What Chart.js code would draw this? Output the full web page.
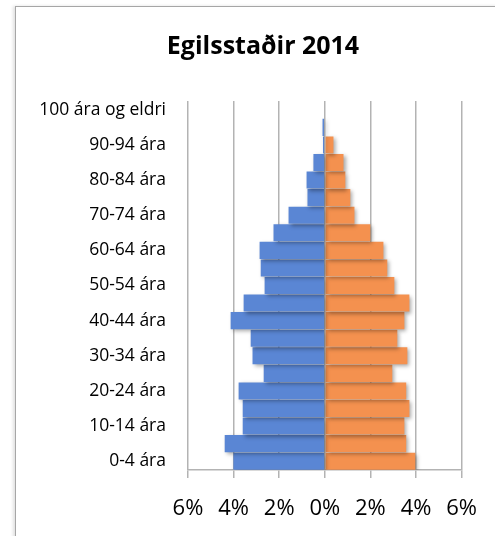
<!DOCTYPE html>
<html>
<head>
<meta charset="utf-8">
<script src="https://cdn.jsdelivr.net/npm/chart.js@4/dist/chart.umd.min.js"></script>
<style>
  html, body { margin: 0; padding: 0; background: #ffffff; }
  body { width: 495px; height: 536px; position: relative; overflow: hidden; }
  #frame {
    position: absolute; left: 15px; top: 6px; width: 520px; height: 560px;
    border: 1px solid #a6a6a6; box-shadow: -2px 0 3px rgba(0,0,0,0.12);
    box-sizing: border-box;
  }
  #wrap { position: absolute; left: 0; top: 0; width: 495px; height: 536px; }
</style>
</head>
<body>
<div id="frame"></div>
<div id="wrap"><canvas id="c" width="495" height="536"></canvas></div>
<script>
const ageGroups = ["0-4 ára","5-9 ára","10-14 ára","15-19 ára","20-24 ára","25-29 ára","30-34 ára","35-39 ára","40-44 ára","45-49 ára","50-54 ára","55-59 ára","60-64 ára","65-69 ára","70-74 ára","75-79 ára","80-84 ára","85-89 ára","90-94 ára","95-99 ára","100 ára og eldri"];
const males   = [-4.01,-4.39,-3.60,-3.60,-3.78,-2.68,-3.17,-3.25,-4.13,-3.56,-2.64,-2.81,-2.86,-2.25,-1.59,-0.76,-0.80,-0.50,-0.08,-0.10,0];
const females = [3.97,3.57,3.49,3.71,3.57,2.96,3.62,3.18,3.49,3.71,3.05,2.74,2.57,2.00,1.30,1.12,0.90,0.82,0.38,0,0];
const xTicks  = [-6,-4,-2,0,2,4,6];
const chartTitle = "Egilsstaðir 2014";

const FONT = "'Open Sans', 'Liberation Sans', sans-serif";

const shadowPlugin = {
  id: 'shadow',
  beforeDatasetsDraw(chart) {
    const ctx = chart.ctx;
    ctx.save();
    ctx.shadowColor = 'rgba(0,0,0,0.35)';
    ctx.shadowBlur = 4;
    ctx.shadowOffsetX = 2;
    ctx.shadowOffsetY = 2;
  },
  afterDatasetsDraw(chart) { chart.ctx.restore(); }
};

// Title centred on the chart frame (frame spans from x=15 past the right edge)
const frameTitle = {
  id: 'frameTitle',
  afterDraw(chart) {
    const ctx = chart.ctx;
    ctx.save();
    ctx.font = "bold 25px " + FONT;
    ctx.fillStyle = '#000000';
    ctx.textAlign = 'center';
    ctx.textBaseline = 'middle';
    ctx.fillText(chartTitle, 263, 47);
    ctx.restore();
  }
};

function grad(ctx, top, bottom) {
  const chart = ctx.chart;
  const area = chart.chartArea;
  if (!area) return top;
  const el = ctx.element;
  if (!el || el.y === undefined) return top;
  const h = el.height || 17;
  const g = chart.ctx.createLinearGradient(0, el.y - h/2, 0, el.y + h/2);
  g.addColorStop(0, top);
  g.addColorStop(1, bottom);
  return g;
}

new Chart(document.getElementById('c'), {
  type: 'bar',
  data: {
    labels: ageGroups,
    datasets: [
      { label: 'Karlar', data: males, backgroundColor: (c) => grad(c, '#5a86d4', '#3564bd'), borderWidth: 0, barPercentage: 0.97, categoryPercentage: 1.0 },
      { label: 'Konur', data: females, backgroundColor: (c) => grad(c, '#f4914f', '#e8701f'), borderWidth: 0, barPercentage: 0.97, categoryPercentage: 1.0 }
    ]
  },
  options: {
    indexAxis: 'y',
    responsive: false,
    animation: false,
    devicePixelRatio: 1,
    layout: { padding: { left: 18, right: 32, top: 101, bottom: 0 } },
    plugins: {
      legend: { display: false },
      tooltip: { enabled: false },
      title: { display: false }
    },
    scales: {
      x: {
        stacked: true,
        min: -6, max: 6,
        afterBuildTicks(scale) { scale.ticks = xTicks.map(v => ({ value: v })); },
        ticks: {
          color: '#000000', font: { family: FONT, size: 22 }, padding: 18,
          callback: (v) => Math.abs(v) + '%', maxRotation: 0
        },
        grid: { color: '#b3b3b3', lineWidth: 1.5, tickLength: 8, drawOnChartArea: true },
        border: { display: true, color: '#b3b3b3', width: 1.5 },
        afterFit(scale) { scale.height = 66; }
      },
      y: {
        stacked: true,
        reverse: true,
        ticks: {
          autoSkip: false, color: '#000000', font: { family: FONT, size: 17.5 }, padding: 14,
          callback: function (v, i) { return i % 2 === 0 ? this.getLabelForValue(v) : ''; }
        },
        grid: { display: false },
        border: { display: false },
        afterFit(scale) { scale.width = 170; }
      }
    }
  },
  plugins: [shadowPlugin, frameTitle]
});
</script>
</body>
</html>
